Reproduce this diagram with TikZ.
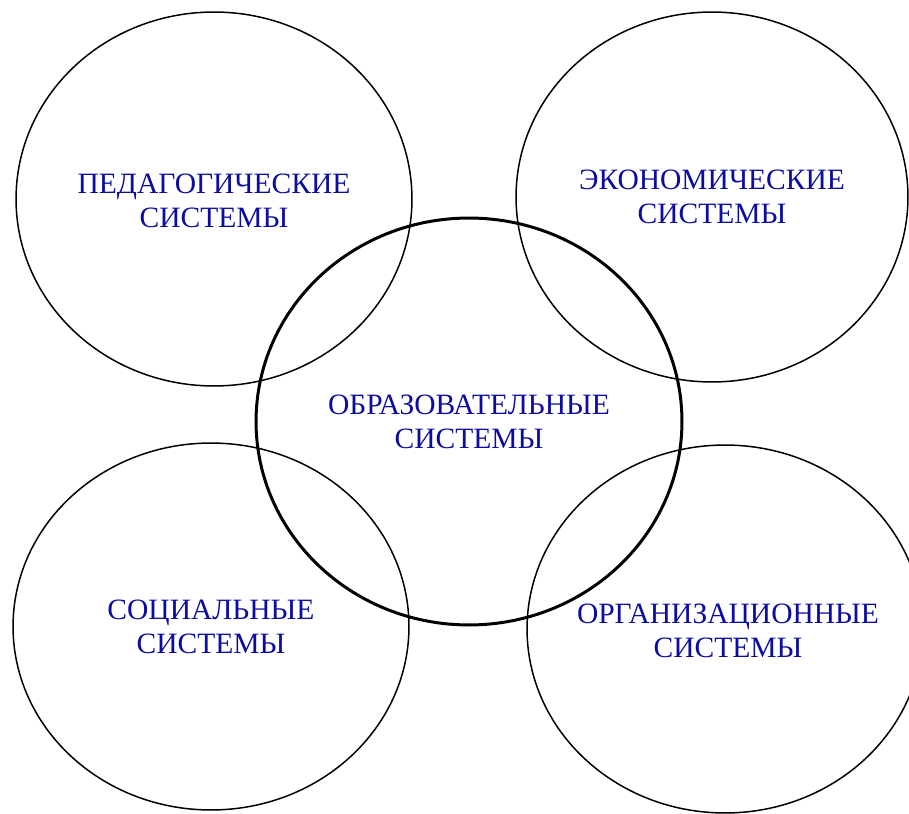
\documentclass[tikz,border=0pt]{standalone}
\usepackage{fontspec}
\setmainfont{Liberation Serif}
\usetikzlibrary{shapes.geometric}
\definecolor{sysblue}{HTML}{0C0CA0}

\begin{document}
\begin{tikzpicture}[x=0.02cm, y=-0.02cm,
  sysell/.style={draw, ellipse, line width=0.85pt, inner sep=0pt, outer sep=0pt},
  coreell/.style={sysell, line width=1.7pt},
  systext/.style={align=center, text=sysblue, inner sep=0pt, font=\fontsize{16.8}{19.3}\selectfont}
]
\useasboundingbox (0,0) rectangle (909,814);
\node[sysell, minimum width=7.92cm, minimum height=7.48cm] (ped) at (214,199) {};
\node[sysell, minimum width=7.84cm, minimum height=7.40cm] (eco) at (712,197) {};
\node[sysell, minimum width=7.92cm, minimum height=7.34cm] (soc) at (211,626.5) {};
\node[sysell, minimum width=7.92cm, minimum height=7.36cm] (org) at (725,629) {};
% central system on top
\node[coreell, minimum width=8.52cm, minimum height=8.14cm] (obr) at (469,421.5) {};

\node[systext] (pedtxt) at ([yshift=-0.04cm]ped.center) {ПЕДАГОГИЧЕСКИЕ\\СИСТЕМЫ};
\node[systext] (ecotxt) at (eco.center) {ЭКОНОМИЧЕСКИЕ\\СИСТЕМЫ};
\node[systext] (soctxt) at (soc.center) {СОЦИАЛЬНЫЕ\\СИСТЕМЫ};
\node[systext] (orgtxt) at ([xshift=0.06cm,yshift=-0.04cm]org.center) {ОРГАНИЗАЦИОННЫЕ\\СИСТЕМЫ};
\node[systext] (obrtxt) at (obr.center) {ОБРАЗОВАТЕЛЬНЫЕ\\СИСТЕМЫ};
\end{tikzpicture}
\end{document}
